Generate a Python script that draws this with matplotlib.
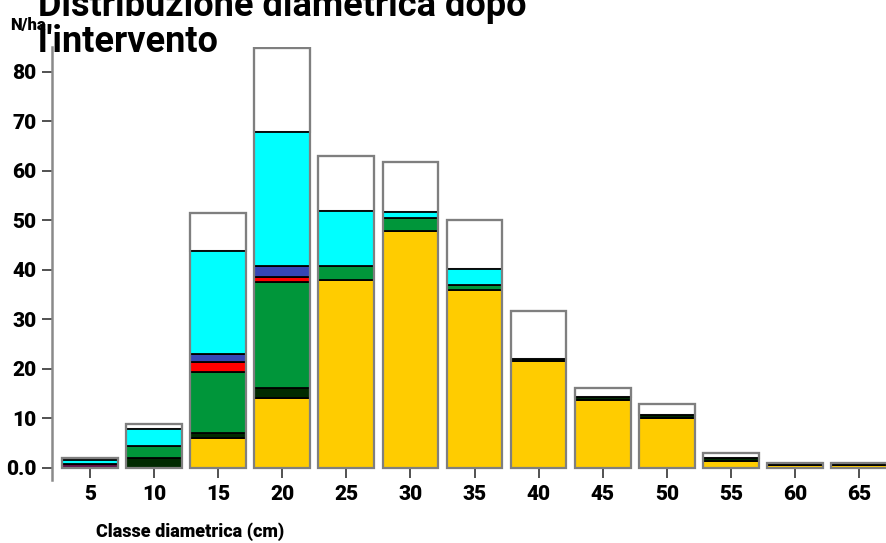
import matplotlib
matplotlib.use("Agg")
import numpy as np
import matplotlib.pyplot as plt
from matplotlib.patches import Rectangle

# classi diametriche (cm) e N/ha per gruppo, dal basso verso l'alto
classes = [5, 10, 15, 20, 25, 30, 35, 40, 45, 50, 55, 60, 65]
purple = [0.7, 0, 0, 0, 0, 0, 0, 0, 0, 0, 0, 0, 0]
yellow = [0, 0, 5.9, 14.0, 38.0, 47.9, 35.9, 21.5, 13.7, 10.0, 1.3, 0.5, 0.5]
darkgreen = [0, 1.9, 1.1, 2.0, 0, 0, 0, 0.5, 0.6, 0.6, 0.6, 0.5, 0.5]
green = [0, 2.4, 12.4, 21.6, 2.8, 2.6, 1.1, 0, 0, 0, 0, 0, 0]
red = [0, 0, 2.0, 1.0, 0, 0, 0, 0, 0, 0, 0, 0, 0]
blue = [0, 0, 1.6, 2.2, 0, 0, 0, 0, 0, 0, 0, 0, 0]
cyan = [0.9, 3.5, 20.7, 27.0, 11.0, 1.2, 3.2, 0, 0, 0, 0, 0, 0]
white = [0.4, 1.1, 7.7, 17.0, 11.2, 10.1, 9.9, 9.7, 1.8, 2.3, 1.0, 0, 0]

yticks = [0, 10, 20, 30, 40, 50, 60, 70, 80]
ytick_labels = ["0.0", "10", "20", "30", "40", "50", "60", "70", "80"]

layers = [
    (purple, "#5c0f45"),
    (yellow, "#ffcc00"),
    (darkgreen, "#002a00"),
    (green, "#00963a"),
    (red, "#ff0000"),
    (blue, "#3646b4"),
    (cyan, "#00ffff"),
]

fig = plt.figure(figsize=(8.86, 5.43), dpi=100)
ax = fig.add_axes([52 / 886, 63 / 543, 1 - 52 / 886, (480 - 47) / 543])

width = 4.35
x = np.array(classes)
bottom = np.zeros(len(classes))

# segmento bianco (residuo) disegnato sotto, poi i gruppi colorati
total = bottom.copy()
for vals, _ in layers:
    total += np.array(vals)
ax.bar(x, white, width, bottom=total, color="white", edgecolor="#7f7f7f",
       linewidth=1.5, zorder=2)

for vals, col in layers:
    vals = np.array(vals)
    ax.bar(x, np.where(vals > 0, vals, np.nan), width, bottom=bottom,
           color=col, edgecolor="black", linewidth=1.3, zorder=3)
    bottom += vals

# contorno grigio di ogni colonna
tops = bottom + np.array(white)
for xi, ti in zip(x, tops):
    ax.add_patch(Rectangle((xi - width / 2, 0), width, ti, fill=False,
                           edgecolor="#7f7f7f", linewidth=1.6, zorder=4))

ax.set_xlim(2.04, 67.1)
ax.set_ylim(-2.5, 85)

for s in ["top", "right"]:
    ax.spines[s].set_visible(False)
ax.spines["bottom"].set_position(("data", 0))
ax.spines["bottom"].set_color("none")
ax.spines["left"].set_color("#8a8a8a")
ax.spines["left"].set_linewidth(1.8)

ax.set_xticks(classes)
ax.set_xticklabels([str(c) for c in classes])
ax.set_yticks(yticks)
ax.set_yticklabels(ytick_labels)
ax.tick_params(axis="both", length=7.2, width=1.1, color="#222222",
               labelsize=15, pad=4)
ax.tick_params(axis="x", pad=5)
for lab in ax.get_xticklabels() + ax.get_yticklabels():
    lab.set_fontfamily("Roboto")
    lab.set_fontweight("black")

fig.text(96 / 886, 1 - 537 / 543, "Classe diametrica (cm)", fontsize=13,
         fontweight="black", family="Roboto", va="baseline", ha="left")
fig.text(10 / 886, 1 - 30 / 543, "N/ha", fontsize=12, fontweight="black",
         family="Roboto", va="baseline", ha="left")
fig.text(38 / 886, 1 - 52 / 543, "Distribuzione diametrica dopo\nl'intervento",
         fontsize=26, fontweight="bold", family="Roboto", va="baseline",
         ha="left", linespacing=1.0)

fig.savefig("out.png", dpi=100)
